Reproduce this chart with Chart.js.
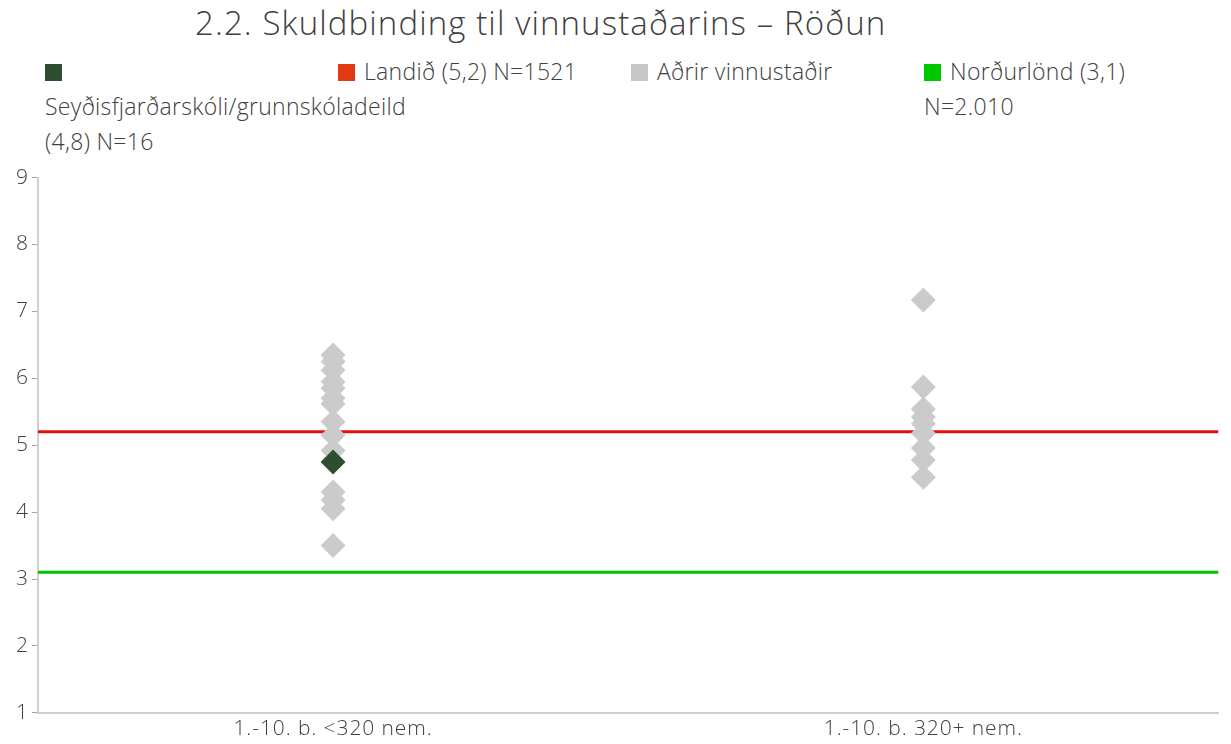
<!DOCTYPE html>
<html>
<head>
<meta charset="utf-8">
<script src="https://cdn.jsdelivr.net/npm/chart.js@4"></script>
<style>
  body { margin: 0; background: #fff; font-family: "Open Sans", sans-serif; color: #404040; }
  #wrap { position: relative; width: 1231px; height: 744px; overflow: hidden; }
  #title { position: absolute; left: 195px; top: 0px; font-size: 33px; letter-spacing: 1.1px; white-space: nowrap; font-weight: 300; }
  #legend { position: absolute; left: 45px; top: 54px; display: flex; }
  .item { width: 293px; font-size: 23px; letter-spacing: 0.3px; line-height: 35px; font-weight: 300; white-space: normal; }
  .item:last-child { width: 225px; }
  .sq { display: inline-block; width: 17px; height: 17px; margin-right: 9px; vertical-align: -1px; }
  #box { position: absolute; left: 0; top: 162px; width: 1231px; height: 584px; }
</style>
</head>
<body>
<div id="wrap">
  <div id="title">2.2. Skuldbinding til vinnustaðarins – Röðun</div>
  <div id="legend"></div>
  <div id="box"><canvas id="myChart"></canvas></div>
</div>
<script>
const categories = ['1.-10. b. <320 nem.', '1.-10. b. 320+ nem.'];

// gray diamonds, one list per category
const otherSmall = [6.35, 6.25, 6.12, 5.95, 5.85, 5.7, 5.62, 5.35, 5.15, 4.92, 4.3, 4.18, 4.05, 3.5];
const otherLarge = [7.17, 5.87, 5.54, 5.42, 5.32, 5.18, 4.96, 4.78, 4.52];
const school = [4.75, null];
const landid = 5.2;
const nordurlond = 3.1;

const names = ['Seyðisfjarðarskóli/grunnskóladeild (4,8) N=16', 'Landið (5,2) N=1521', 'Aðrir vinnustaðir', 'Norðurlönd (3,1) N=2.010'];
const colors = ['#2e4f2f', '#e03a12', '#c8c8c8', '#00c800'];

const legend = document.getElementById('legend');
names.forEach((n, i) => {
    const d = document.createElement('div');
    d.className = 'item';
    d.innerHTML = '<span class="sq" style="background:' + colors[i] + '"></span>' + n;
    legend.appendChild(d);
});

const pts = (vals, x) => vals.map(v => ({x: x, y: v}));
const font = {family: 'Open Sans', size: 21, weight: 300};

// a little tracking, the reference font is wider
const spacing = {
    id: 'spacing',
    beforeLayout: c => { c.ctx.letterSpacing = '0.9px'; },
    beforeDraw: c => { c.ctx.letterSpacing = '0.9px'; }
};

const ctx = document.getElementById('myChart');

new Chart(ctx, {
    type: 'scatter',
    plugins: [spacing],
    data: {
        datasets: [
            {
                label: names[0],
                data: school.map((v, i) => ({x: i + 1, y: v})).filter(p => p.y !== null),
                backgroundColor: colors[0],
                borderWidth: 0,
                pointStyle: 'rectRot',
                pointRadius: 12.5,
                order: 0
            },
            {
                label: names[2],
                data: pts(otherSmall, 1).concat(pts(otherLarge, 2)),
                backgroundColor: '#cbcbcb',
                borderWidth: 0,
                pointStyle: 'rectRot',
                pointRadius: 12.5,
                order: 1
            },
            {
                label: names[1],
                type: 'line',
                data: [{x: 0.5, y: landid}, {x: 2.5, y: landid}],
                borderColor: '#e01010',
                borderWidth: 3,
                pointRadius: 0,
                order: 2
            },
            {
                label: names[3],
                type: 'line',
                data: [{x: 0.5, y: nordurlond}, {x: 2.5, y: nordurlond}],
                borderColor: '#00c000',
                borderWidth: 3,
                pointRadius: 0,
                order: 2
            }
        ]
    },
    options: {
        responsive: true,
        maintainAspectRatio: false,
        animation: false,
        layout: {padding: {top: 13, right: 6, bottom: 0, left: 13}},
        plugins: {legend: {display: false}, tooltip: {enabled: false}},
        scales: {
            x: {
                type: 'linear',
                min: 0.5,
                max: 2.5,
                afterBuildTicks: s => { s.ticks = categories.map((c, i) => ({value: i + 1})); },
                ticks: {
                    callback: v => categories[v - 1],
                    color: '#404040',
                    font: font,
                    padding: 4
                },
                grid: {display: true, drawOnChartArea: false, drawTicks: false},
                border: {color: '#d0d0d0', width: 2}
            },
            y: {
                min: 1,
                max: 9,
                ticks: {
                    stepSize: 1,
                    color: '#404040',
                    font: font,
                    padding: 3
                },
                grid: {drawOnChartArea: false, tickLength: 6, color: '#a0a0a0', tickWidth: 1},
                border: {color: '#d0d0d0', width: 2}
            }
        }
    }
});
</script>
</body>
</html>
